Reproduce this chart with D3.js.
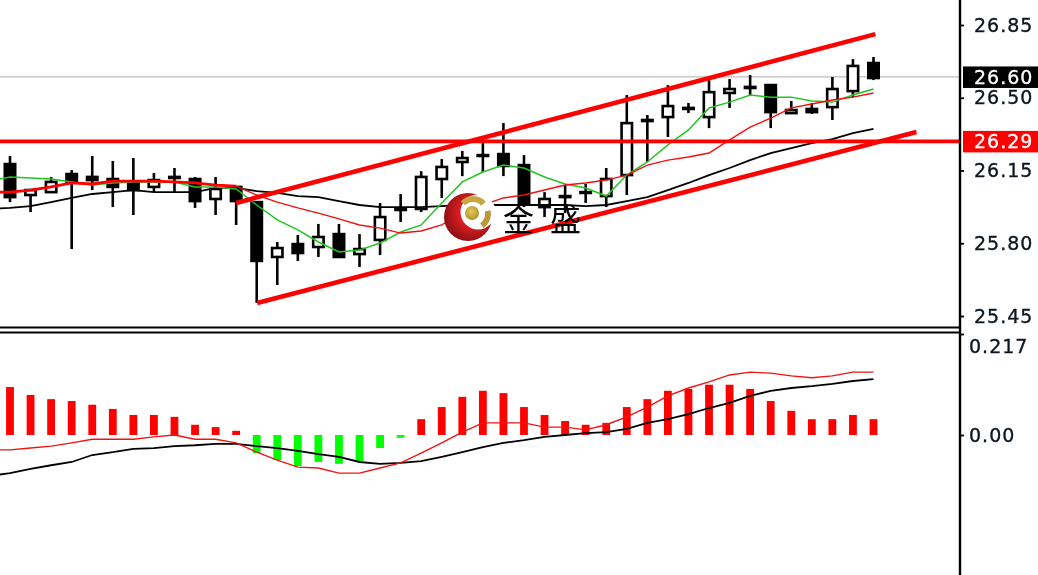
<!DOCTYPE html>
<html><head><meta charset="utf-8">
<script src="https://cdn.jsdelivr.net/npm/d3@7/dist/d3.min.js"></script>
<style>html,body{margin:0;padding:0;background:#fff;overflow:hidden}svg{display:block;filter:blur(0.4px)}
text{font-family:"DejaVu Sans",sans-serif}</style></head><body><div id="c"></div>
<script>
const opens=[26.181,26.032,26.046,26.133,26.119,26.109,26.090,26.071,26.119,26.109,26.013,26.071,25.998,25.734,25.796,25.782,25.844,25.748,25.816,25.965,25.965,26.109,26.191,26.224,26.229,26.176,25.974,26.027,26.046,26.027,26.128,26.393,26.407,26.451,26.407,26.523,26.552,26.561,26.426,26.446,26.455,26.532,26.667];
const closes=[26.022,26.056,26.095,26.095,26.104,26.071,26.056,26.104,26.114,26.003,26.061,26.003,25.715,25.777,25.753,25.830,25.734,25.772,25.926,25.960,26.119,26.167,26.210,26.220,26.172,25.994,26.013,26.022,26.042,26.109,26.378,26.388,26.460,26.446,26.527,26.542,26.547,26.431,26.441,26.431,26.542,26.653,26.595];
const highs=[26.220,26.061,26.119,26.152,26.220,26.196,26.210,26.138,26.162,26.119,26.119,26.071,26.003,25.806,25.840,25.893,25.893,25.844,25.994,26.037,26.147,26.205,26.244,26.282,26.378,26.224,26.046,26.080,26.085,26.162,26.513,26.417,26.561,26.475,26.585,26.590,26.609,26.561,26.484,26.475,26.600,26.686,26.696];
const lows=[25.998,25.950,26.042,25.772,26.056,25.974,25.936,26.046,26.046,25.970,25.936,25.888,25.513,25.599,25.715,25.734,25.734,25.686,25.743,25.902,25.950,26.018,26.123,26.143,26.123,25.974,25.926,25.945,25.994,25.974,26.032,26.191,26.311,26.426,26.354,26.451,26.513,26.354,26.426,26.422,26.393,26.503,26.585];
// moving averages: first value is the bar just left of the visible window
const maFast=[26.099,26.119,26.114,26.109,26.095,26.080,26.090,26.095,26.095,26.095,26.071,26.071,26.061,25.984,25.912,25.864,25.806,25.758,25.767,25.801,25.854,25.888,25.994,26.095,26.143,26.176,26.162,26.119,26.085,26.066,26.027,26.128,26.191,26.273,26.345,26.451,26.479,26.513,26.503,26.503,26.484,26.479,26.513,26.542];
const maMid=[26.046,26.046,26.056,26.071,26.090,26.085,26.099,26.099,26.099,26.095,26.090,26.080,26.075,26.032,25.998,25.970,25.945,25.917,25.888,25.873,25.849,25.859,25.888,25.945,25.984,26.018,26.032,26.056,26.080,26.090,26.104,26.128,26.176,26.200,26.215,26.234,26.297,26.359,26.402,26.451,26.470,26.489,26.503,26.523];
const maSlow=[25.965,25.970,25.979,25.998,26.018,26.037,26.046,26.056,26.046,26.046,26.046,26.066,26.066,26.051,26.042,26.027,26.022,26.003,25.984,25.974,25.974,25.974,25.979,25.984,25.984,25.984,25.984,25.984,25.984,25.979,25.984,26.003,26.022,26.056,26.090,26.128,26.162,26.200,26.234,26.258,26.282,26.301,26.330,26.350];
const macdHist=[.103,.086,.077,.073,.065,.056,.043,.043,.039,.022,.017,.009,-.039,-.054,-.067,-.058,-.062,-.056,-.028,-.006,.034,.060,.082,.095,.090,.060,.043,.030,.022,.026,.060,.077,.095,.099,.108,.108,.099,.073,.052,.034,.034,.043,.034];
const macdBlack=[-.088,-.082,-.073,-.065,-.058,-.043,-.037,-.030,-.028,-.024,-.022,-.019,-.019,-.024,-.028,-.034,-.041,-.047,-.058,-.062,-.060,-.056,-.047,-.037,-.026,-.017,-.011,-.004,0,.004,.006,.013,.026,.034,.045,.058,.069,.084,.095,.101,.105,.110,.116,.120];
const macdRed=[-.032,-.032,-.028,-.024,-.017,-.009,-.009,-.009,-.004,0,-.009,-.009,-.017,-.037,-.054,-.069,-.071,-.082,-.082,-.071,-.060,-.039,-.017,.006,.026,.026,.026,.017,.017,.011,.022,.039,.060,.084,.101,.114,.129,.135,.133,.127,.123,.127,.135,.135];
const priceTicks=[26.85,26.50,26.15,25.80,25.45];
const macdTicks=[0.217,0];
const lastPrice=26.60, levelPrice=26.29;
const channelUpper=[[11,25.994],[42.09,26.806]];
const channelLower=[[12.02,25.513],[44.09,26.335]];
const brandName="金盛";

const W=1038,H=575,axisX=960;
const svg=d3.select("#c").append("svg").attr("width",W).attr("height",H).attr("viewBox",[0,0,W,H]);
const x=d3.scaleLinear().domain([0,42]).range([10,873.5]);
const y=d3.scaleLinear().domain([25.45,26.85]).range([316,25]);
const m=d3.scaleLinear().domain([0,0.217]).range([435,334]);
const plot=svg.append("g");
const idx=d3.range(opens.length);

plot.append("line").attr("x1",0).attr("x2",axisX).attr("y1",y(lastPrice)).attr("y2",y(lastPrice)).attr("stroke","#bcbcbc").attr("stroke-width",1.3);

const cg=plot.selectAll("g.c").data(idx).join("g");
cg.append("line").attr("x1",i=>x(i)).attr("x2",i=>x(i)).attr("y1",i=>y(highs[i])).attr("y2",i=>y(lows[i])).attr("stroke","#000").attr("stroke-width",2.6);
cg.append("rect").attr("x",i=>x(i)-5.2).attr("width",10.4)
  .attr("y",i=>y(Math.max(opens[i],closes[i])))
  .attr("height",i=>Math.max(0.1,Math.abs(y(opens[i])-y(closes[i]))))
  .attr("fill",i=>closes[i]>opens[i]?"#fff":"#000").attr("stroke","#000").attr("stroke-width",2.6);

const lineP=d3.line().x((d,i)=>x(i-1)).y(d=>y(d));
const lineM=d3.line().x((d,i)=>x(i-1)).y(d=>m(d));
const path=(g,d,c,w)=>g.append("path").attr("d",d).attr("fill","none").attr("stroke",c).attr("stroke-width",w);
path(plot,lineP(maSlow),"#000",1.8);
path(plot,lineP(maFast),"#22c422",1.5);
path(plot,lineP(maMid),"#f01010",1.4);
path(plot,lineP(maMid.slice(0,13)),"#ff0000",2.8);

plot.append("line").attr("x1",0).attr("x2",axisX).attr("y1",y(levelPrice)).attr("y2",y(levelPrice)).attr("stroke","#ff0000").attr("stroke-width",3.8);
const trend=d3.line().x(d=>x(d[0])).y(d=>y(d[1]));
path(plot,trend(channelUpper),"#ff0000",4.6);
path(plot,trend(channelLower),"#ff0000",4.6);

const defs=svg.append("defs");
const rg=defs.append("radialGradient").attr("id","lr").attr("cx","60%").attr("cy","42%").attr("r","62%");
rg.append("stop").attr("offset","45%").attr("stop-color","#dc1e22");
rg.append("stop").attr("offset","100%").attr("stop-color","#8c0f12");
const gg=defs.append("radialGradient").attr("id","lg").attr("cx","45%").attr("cy","40%").attr("r","65%");
gg.append("stop").attr("offset","0%").attr("stop-color","#e6cc58");
gg.append("stop").attr("offset","100%").attr("stop-color","#ad8a2c");
const logo=svg.append("g").attr("transform","translate(468,217)");
logo.append("circle").attr("r",24).attr("fill","url(#lr)");
logo.append("circle").attr("cx",10).attr("cy",-5).attr("r",17.5).attr("fill","#fff");
logo.append("circle").attr("cx",4).attr("cy",-4).attr("r",7).attr("fill","url(#lg)");
const arc=d3.arc();
logo.append("path").attr("d",arc({innerRadius:11,outerRadius:17,startAngle:-0.8,endAngle:0.85})).attr("transform","translate(5,-4)").attr("fill","#c8a644");
logo.append("path").attr("d",arc({innerRadius:11,outerRadius:17,startAngle:1.35,endAngle:2.55})).attr("transform","translate(6,-3)").attr("fill","#bb9838");
svg.append("text").attr("x",503).attr("y",231).attr("font-size",31).attr("letter-spacing",16)
  .style("font-family",'"Noto Sans CJK SC"').attr("font-weight",400).attr("fill","#000").text(brandName);

svg.append("line").attr("x1",0).attr("x2",axisX).attr("y1",327.5).attr("y2",327.5).attr("stroke","#000").attr("stroke-width",1.8);
svg.append("line").attr("x1",0).attr("x2",axisX).attr("y1",332.5).attr("y2",332.5).attr("stroke","#000").attr("stroke-width",1.8);
svg.append("line").attr("x1",axisX).attr("x2",axisX).attr("y1",0).attr("y2",H).attr("stroke","#000").attr("stroke-width",2.4);

const zero=m(0);
svg.append("g").selectAll("rect").data(macdHist).join("rect")
  .attr("x",(d,i)=>x(i)-3.9).attr("width",7.8)
  .attr("y",d=>Math.min(m(d),zero)).attr("height",d=>Math.abs(m(d)-zero))
  .attr("fill",d=>d>=0?"#ff0000":"#00ff00");
path(svg,lineM(macdBlack),"#000",1.8);
path(svg,lineM(macdRed),"#f01414",1.4);

const fmtP=d3.format(".2f");
const axP=svg.append("g").attr("transform",`translate(${axisX},0)`).call(d3.axisRight(y).tickValues(priceTicks).tickSize(4).tickFormat(fmtP));
const axM=svg.append("g").attr("transform",`translate(${axisX},0)`).call(d3.axisRight(m).tickValues(macdTicks).tickSize(4).tickFormat(d=>d===0?"0.00":d3.format(".3f")(d)));
[axP,axM].forEach(a=>{a.select(".domain").remove();a.selectAll("line").attr("stroke","#000").attr("stroke-width",1.8);
  a.selectAll("text").attr("fill","#0c1620").attr("stroke","#0c1620").attr("stroke-width",0.35).attr("font-size",19).attr("letter-spacing",1).style("font-family",'"DejaVu Sans"');});
axP.selectAll("text").attr("x",14);
axM.selectAll("text").attr("x",9).attr("dy",(d)=>d===0?"0.32em":"0.95em");

[[lastPrice,"#000"],[levelPrice,"#ff0000"]].forEach(([p,c])=>{
  svg.append("rect").attr("x",963).attr("y",y(p)-10.5).attr("width",75).attr("height",21.5).attr("fill",c);
  svg.append("text").attr("x",974).attr("y",y(p)).attr("dy","0.36em").attr("font-size",19).attr("letter-spacing",1).attr("fill","#fff").attr("stroke","#fff").attr("stroke-width",0.3).text(fmtP(p));
});
</script></body></html>
